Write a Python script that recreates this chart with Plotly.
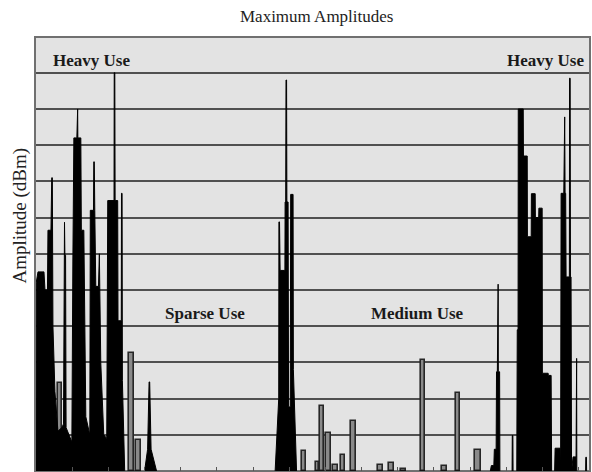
import plotly.graph_objects as go

# ---- data (frequency bin, amplitude in grid units) ----
# black spectrum envelope (max-hold trace)
spec_freq = [
    0, 0.2, 2, 8, 9, 11.5, 12, 15, 15.8, 16.4, 17, 19, 22, 26, 27.6, 28, 28.6, 29, 29.7, 30.2,
    33, 36, 37, 38, 41, 41.2, 41.8, 42, 45, 45.5, 48, 50, 54, 54.5, 57.7, 58, 58.5, 59, 60,
    62.7, 63, 63.6, 64, 65, 68, 71, 72, 78.3, 78.5, 79.1, 79.4, 82, 82.3, 85.6, 85.8, 86.4,
    86.7, 89,
    109, 112, 113.5, 114.1, 115.5, 121,
    240, 242, 243.6, 243.8, 244.4, 245, 249.8, 250, 250.6, 250.9, 251.5, 251.8, 253, 253.5,
    255.2, 255.6, 258, 258.3, 260, 261.5,
    456, 457, 459.5, 460, 461.8, 462.2, 463, 463.2, 463.8, 464, 465.3, 465.6,
    477.8, 478, 478.6, 478.8, 482.5, 483, 483.8, 484, 489, 489.2, 493, 493.2, 497, 497.2,
    501, 501.2, 504.5, 504.7, 508, 508.2, 514, 514.2, 517, 517.5, 520.5, 521, 526, 526.5,
    527, 529.7, 530, 530.6, 531, 531.6, 532, 535.3, 535.5, 536.1, 536.4, 537, 537.5, 539,
    542, 542.1, 542.6, 542.8, 551.6, 551.8, 552.4, 552.6, 555,
]
spec_amp = [
    0, 5.2, 5.5, 5.5, 5.0, 5.0, 6.65, 6.65, 8.1, 8.1, 4.0, 2.2, 1.1, 1.2, 1.3, 6.87, 6.87, 5.96, 5.96, 1.2,
    1.0, 0.8, 5.8, 9.2, 9.2, 10.0, 10.0, 9.2, 9.2, 6.65, 6.65, 1.5, 1.0, 7.2, 7.2, 8.54, 8.54, 7.2, 5.1,
    5.1, 6.0, 6.0, 5.1, 3.0, 1.0, 0.9, 7.47, 7.47, 11.0, 11.0, 7.47, 7.47, 4.15, 4.15, 7.67, 7.67,
    2.5, 0,
    0, 0.6, 2.46, 2.46, 0.6, 0,
    0, 1.0, 2.0, 6.88, 6.88, 5.54, 5.54, 7.43, 7.43, 10.8, 10.8, 7.43, 7.43, 1.77,
    1.77, 7.64, 7.64, 2.8, 1.0, 0,
    0, 0.15, 0.15, 0.6, 0.6, 2.74, 2.74, 5.16, 5.16, 2.74, 2.74, 0,
    0, 0.98, 0.98, 0, 0, 3.9, 3.9, 10.0, 10.0, 8.7, 8.7, 6.47, 6.47, 7.66,
    7.66, 7.0, 7.0, 7.26, 7.26, 2.7, 2.7, 2.64, 2.64, 0, 0, 0.63, 0.63, 0,
    7.67, 7.67, 9.78, 9.78, 7.67, 7.67, 5.36, 5.36, 10.85, 10.85, 5.36, 5.36, 0, 0.39,
    0.39, 3.11, 3.11, 0, 0, 0.38, 0.38, 0, 0,
]

# outlined (hollow) channel bars
bar_freq = [24.5, 96, 103, 269, 282.5, 287, 293.5, 300.5, 308, 318.5, 346, 356.5, 368.5, 388.5, 409.5, 423.5, 444]
bar_width = [4, 5, 5, 4, 3, 4, 5, 5, 4, 5, 5, 5, 5, 4, 5, 4, 6]
bar_amp = [2.42, 3.25, 0.85, 0.55, 0.25, 1.79, 1.04, 0.16, 0.43, 1.38, 0.16, 0.22, 0.06, 3.06, 0.13, 2.15, 0.57]

region_labels = ["Heavy Use", "Sparse Use", "Medium Use", "Heavy Use"]
region_x = [56, 170, 383, 511.5]
region_y = [11.33, 4.36, 4.36, 11.33]

fig = go.Figure()
fig.add_trace(go.Bar(
    x=bar_freq, y=bar_amp, width=bar_width,
    marker=dict(color="#8a8a8a", line=dict(color="#262626", width=1.6)),
    showlegend=False, hoverinfo="skip",
))
fig.add_trace(go.Scatter(
    x=spec_freq, y=spec_amp, mode="lines", fill="tozeroy",
    line=dict(color="#000000", width=1), fillcolor="#000000",
    showlegend=False, hoverinfo="skip",
))

for t, x, y in zip(region_labels, region_x, region_y):
    fig.add_annotation(x=x, y=y, text="<b>" + t + "</b>", showarrow=False,
                       xanchor="center", yanchor="middle",
                       font=dict(family="Liberation Serif", size=17, color="#1a1a1a"))

fig.add_annotation(xref="paper", yref="paper", x=-0.029, y=0.59, text="Amplitude (dBm)",
                   textangle=-90, showarrow=False, xanchor="center", yanchor="middle",
                   font=dict(family="Liberation Serif", size=19, color="#222222"))

fig.update_layout(
    width=592, height=472,
    margin=dict(l=36, r=1, t=38, b=1),
    paper_bgcolor="#ffffff", plot_bgcolor="#e3e3e3",
    barmode="overlay", bargap=0,
    title=dict(text="Maximum Amplitudes", x=0.535, xanchor="center", y=0.965, yanchor="middle",
               font=dict(family="Liberation Serif", size=17, color="#222222")),
)
fig.update_xaxes(range=[0, 555], showgrid=False, zeroline=False, showticklabels=False,
                 ticks="inside", ticklen=4, tickcolor="#555555", tick0=0, dtick=36.3,
                 showline=True, mirror=True, linecolor="#707070", linewidth=2)
fig.update_yaxes(range=[0, 11.96], showgrid=True, gridcolor="#505050", gridwidth=2,
                 dtick=1, tick0=0, zeroline=False, showticklabels=False, ticks="",
                 showline=True, mirror=True, linecolor="#707070", linewidth=2)

fig.write_html("out.html")
